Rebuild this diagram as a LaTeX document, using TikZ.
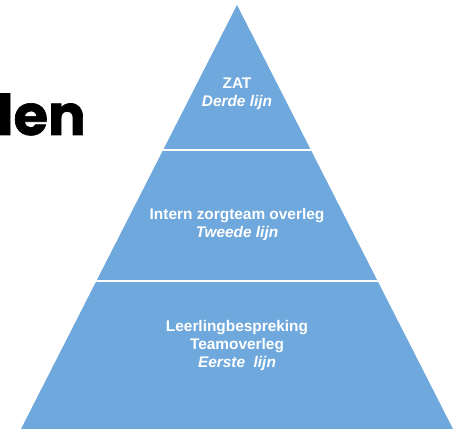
\documentclass[tikz,border=0pt]{standalone}
\usepackage{fontspec}
\setmainfont{Liberation Sans}
\newfontfamily\titlefont{Poppins}[BoldFeatures={FakeBold=1.2}]
\definecolor{laag}{RGB}{111,168,220}

\begin{document}
\begin{tikzpicture}[x=1pt, y=-1pt,
    label/.style={text=white, align=center, font=\bfseries\fontsize{15.4}{18}\selectfont}]
    \useasboundingbox (0,0) rectangle (467,430);

    % de piramide
    \coordinate (top) at (237,5);
    \coordinate (links) at (21,429);
    \coordinate (rechts) at (453,429);
    \fill[laag] (top) -- (rechts) -- (links) -- cycle;

    % witte lijnen tussen de lagen
    \begin{scope}
      \clip (top) -- (rechts) -- (links) -- cycle;
      \draw[white, line width=2pt] (0,150) -- (467,150);
      \draw[white, line width=2pt] (0,281) -- (467,281);
    \end{scope}

    % teksten
    \node[label] (zat) at (237,94) {ZAT\\\textit{Derde lijn}};
    \node[label] (tweede) at (237,225) {Intern zorgteam overleg\\\textit{Tweede lijn}};
    \node[label] (eerste) at (237,346) {Leerlingbespreking\\Teamoverleg\\\textit{Eerste~ lijn}};

    \node[anchor=base east, inner sep=0pt, font=\titlefont\bfseries\fontsize{56}{60}\selectfont] (titel) at (86,135) {len};
\end{tikzpicture}
\end{document}
